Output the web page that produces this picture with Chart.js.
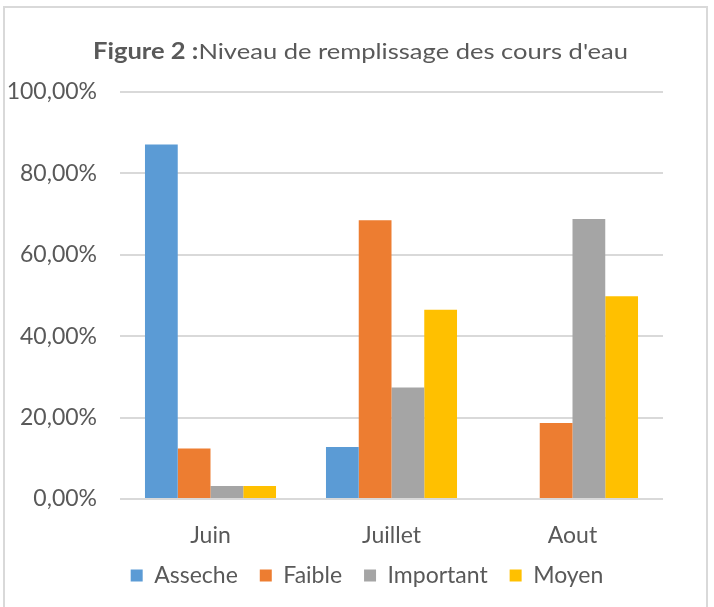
<!DOCTYPE html>
<html>
<head>
<meta charset="utf-8">
<script src="https://cdn.jsdelivr.net/npm/chart.js"></script>
<style>
  body { margin: 0; background: #fff; }
  #frame { position: absolute; left: 3px; top: 6px; width: 705px; height: 640px; border: 2px solid #d9d9d9; box-sizing: border-box; }
  #wrap { position: absolute; left: 0; top: 0; width: 714px; height: 607px; overflow: hidden; }
</style>
</head>
<body>
<div id="wrap">
  <div id="frame"></div>
  <canvas id="myChart" width="714" height="607" style="position:absolute;left:0;top:0;"></canvas>
</div>

<script>
// chart data
const titleBold = 'Figure 2 :';
const titleRest = 'Niveau de remplissage des cours d\'eau';
const months = ['Juin', 'Juillet', 'Aout'];
const asseche = [87.1, 12.8, 0];
const faible = [12.4, 68.5, 18.7];
const important = [3.2, 27.4, 68.8];
const moyen = [3.2, 46.5, 49.8];
const yTicks = [0, 20, 40, 60, 80, 100];

const textColor = '#595959';
const fontName = 'Lato';
const fontSize = 23;

// draws the title, bold part + normal part
const titlePlugin = {
  id: 'figTitle',
  afterDraw(chart) {
    const ctx = chart.ctx;
    ctx.save();
    ctx.fillStyle = textColor;
    ctx.textBaseline = 'middle';
    ctx.font = 'bold 22px ' + fontName;
    const w1 = ctx.measureText(titleBold).width;
    ctx.font = '22px ' + fontName;
    const w2 = ctx.measureText(titleRest).width;
    const target = 535;
    const sx = target / (w1 + w2);
    ctx.translate(93, 52);
    ctx.scale(sx, 1);
    ctx.font = 'bold 22px ' + fontName;
    ctx.fillText(titleBold, 0, 0);
    ctx.font = '22px ' + fontName;
    ctx.fillText(titleRest, w1, 0);
    ctx.restore();
  }
};

// move the legend box a bit (centre it like the excel one)
const legendShift = {
  id: 'legendShift',
  afterLayout(chart) {
    const lg = chart.legend;
    lg.left = 71;
    lg.right = 663;
    lg.width = 592;
    lg.top -= 9;
    lg.bottom -= 9;
  }
};

const ctx = document.getElementById('myChart').getContext('2d');
new Chart(ctx, {
  type: 'bar',
  data: {
    labels: months,
    datasets: [
      { label: 'Asseche', data: asseche, backgroundColor: '#5B9BD5' },
      { label: 'Faible', data: faible, backgroundColor: '#ED7D31' },
      { label: 'Important', data: important, backgroundColor: '#A5A5A5' },
      { label: 'Moyen', data: moyen, backgroundColor: '#FFC000' }
    ]
  },
  options: {
    responsive: false,
    animation: false,
    devicePixelRatio: 1,
    layout: { padding: { top: 92, right: 51, bottom: 1, left: 0 } },
    datasets: {
      bar: { categoryPercentage: 0.724, barPercentage: 1 }
    },
    plugins: {
      title: { display: false },
      tooltip: { enabled: false },
      legend: {
        position: 'bottom',
        labels: {
          color: textColor,
          font: { family: fontName, size: fontSize },
          boxWidth: 12,
          boxHeight: 12,
          padding: 22
        }
      }
    },
    scales: {
      x: {
        grid: { display: false, drawTicks: false },
        border: { display: false },
        afterFit: (scale) => { scale.height = 52; },
        ticks: {
          color: textColor,
          font: { family: fontName, size: fontSize },
          padding: 23
        }
      },
      y: {
        min: 0,
        max: 100,
        afterFit: (scale) => { scale.width = 120; },
        afterBuildTicks: (scale) => { scale.ticks = yTicks.map(v => ({ value: v })); },
        grid: { color: '#d9d9d9', lineWidth: 2, drawTicks: false },
        border: { display: false },
        ticks: {
          color: textColor,
          font: { family: fontName, size: fontSize },
          padding: 23,
          callback: (v) => v.toFixed(2).replace('.', ',') + '%'
        }
      }
    }
  },
  plugins: [titlePlugin, legendShift]
});
</script>
</body>
</html>
